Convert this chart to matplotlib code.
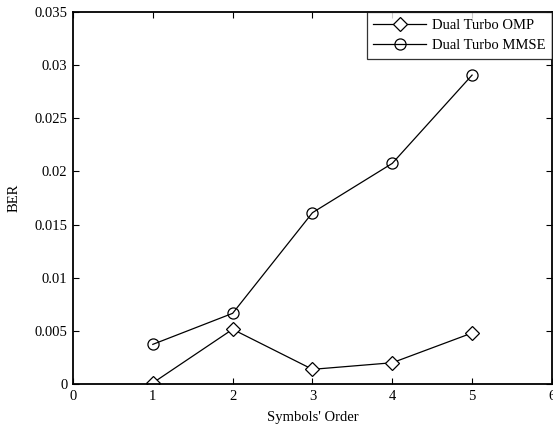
import numpy as np
import matplotlib.pyplot as plt

plt.rcParams['font.family'] = ['Liberation Serif', 'DejaVu Serif']

order = [1, 2, 3, 4, 5]
ber_omp = [0.0001, 0.00515, 0.00138, 0.0020, 0.0048]
ber_mmse = [0.00373, 0.00665, 0.01612, 0.02076, 0.02907]

xticks = [0, 1, 2, 3, 4, 5, 6]
yticks = [0, 0.005, 0.01, 0.015, 0.02, 0.025, 0.03, 0.035]
yticklabels = ['0', '0.005', '0.01', '0.015', '0.02', '0.025', '0.03', '0.035']

fig = plt.figure(figsize=(5.53, 4.28), dpi=100)
ax = fig.add_axes([0.132, 0.1028, 0.866, 0.869])

ax.plot(order, ber_omp, 'k-', marker='D', markersize=7, markerfacecolor='white',
        markeredgewidth=0.9, linewidth=0.9, label='Dual Turbo OMP')
ax.plot(order, ber_mmse, 'k-', marker='o', markersize=8, markerfacecolor='none',
        markeredgewidth=0.9, linewidth=0.9, label='Dual Turbo MMSE')

ax.set_xlim(0, 6)
ax.set_ylim(0, 0.035)
ax.set_xticks(xticks)
ax.set_yticks(yticks)
ax.set_yticklabels(yticklabels)
ax.tick_params(direction='in', top=True, right=True, labelsize=10.5,
               length=4, width=0.8, pad=4)
for s in ax.spines.values():
    s.set_linewidth(1.3)

ax.set_xlabel("Symbols' Order", fontsize=10.5, labelpad=6)
ax.set_ylabel('BER', fontsize=10.5, labelpad=10)

leg = ax.legend(loc='upper right', fontsize=10.5, frameon=True, fancybox=False,
                borderaxespad=0, handlelength=3.6, borderpad=0.45,
                labelspacing=0.5, handletextpad=0.4)
leg.get_frame().set_edgecolor('black')
leg.get_frame().set_linewidth(0.9)

plt.savefig('out.png', dpi=100)
